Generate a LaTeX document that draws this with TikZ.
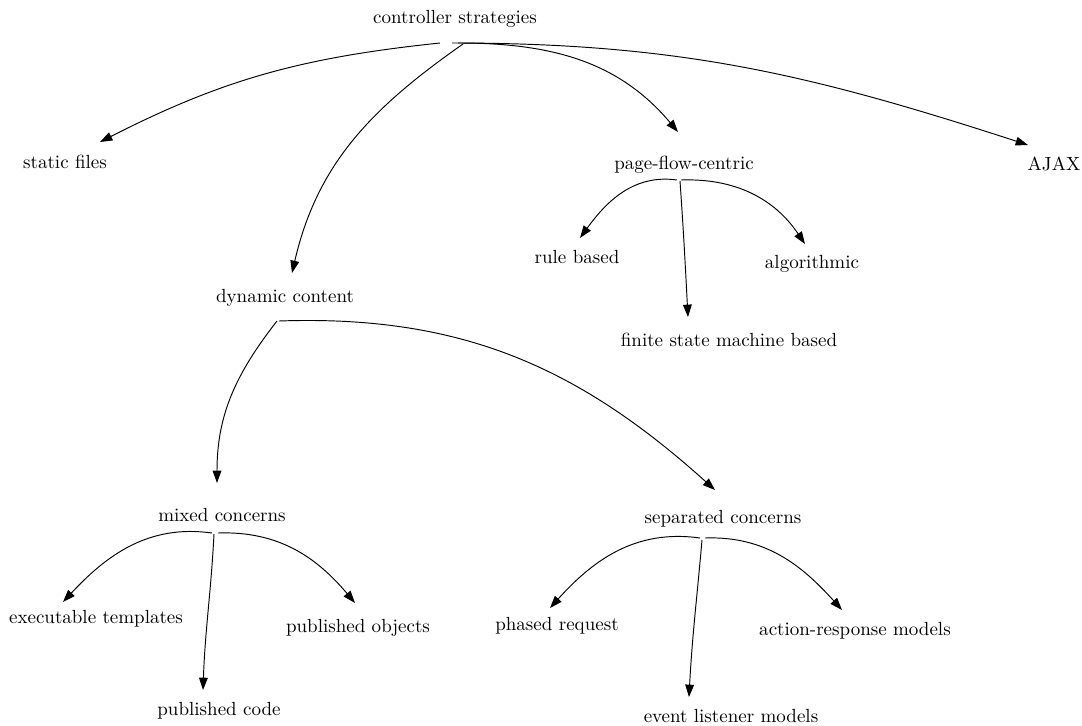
\documentclass[tikz,border=0pt]{standalone}
\usepackage{tikz}
\usetikzlibrary{arrows.meta,calc}

\begin{document}
\begin{tikzpicture}[x=0.526pt, y=0.526pt,
  >={Triangle[length=6.5pt, width=4.6pt]},
  term/.style={anchor=base, inner sep=0pt},
  link/.style={->, line width=0.5pt},
]
\useasboundingbox (0,0) rectangle (1082,-726);
\node[term] (ctl) at (455,-23) {controller strategies};
\node[term] (stat) at (65,-168) {static files};
\node[term] (page) at (684,-169) {page-flow-centric};
\node[term] (ajax) at (1054,-170) {AJAX};
\node[term] (dyn) at (285,-302) {dynamic content};
\node[term] (rule) at (577,-263) {rule based};
\node[term] (algo) at (812,-268) {algorithmic};
\node[term] (fsm) at (729,-346) {finite state machine based};
\node[term] (mixed) at (222,-521) {mixed concerns};
\node[term] (sep) at (723,-523) {separated concerns};
\node[term] (exec) at (96,-623) {executable templates};
\node[term] (pobj) at (358,-632) {published objects};
\node[term] (pcode) at (219,-715) {published code};
\node[term] (phase) at (557,-630) {phased request};
\node[term] (event) at (731,-722) {event listener models};
\node[term] (resp) at (855,-635) {action-response models};
% controller strategies
\draw[link] ($(ctl.base)+(-15,-20)$) to[out=186, in=27] ($(stat.base)+(35,26)$);
\draw[link] ($(ctl.base)+(-3,-20)$) to[out=0, in=162] ($(ajax.base)+(-26,25)$);
\draw[link] ($(ctl.base)+(3,-20)$) to[out=0, in=130] ($(page.base)+(-6,37)$);
\draw[link] ($(ctl.base)+(8,-21)$) to[out=215, in=77] ($(dyn.base)+(7,29)$);
% page-flow-centric
\draw[link] ($(page.base)+(-7,-11)$) to[out=172, in=54] ($(rule.base)+(3,25)$);
\draw[link] ($(page.base)+(-4,-12)$) to[out=-86, in=93] ($(fsm.base)+(-41,29)$);
\draw[link] ($(page.base)+(-3,-11)$) to[out=2, in=124] ($(algo.base)+(-7,24)$);
% dynamic content
\draw[link] ($(dyn.base)+(-8,-19)$) to[out=232, in=90] ($(mixed.base)+(-5,38)$);
\draw[link] ($(dyn.base)+(-6,-19)$) to[out=2, in=138] ($(sep.base)+(-8,33)$);
% mixed concerns
\draw[link] ($(mixed.base)+(-10,-12)$) to[out=172, in=47] ($(exec.base)+(-33,21)$);
\draw[link] ($(mixed.base)+(-8,-13)$) to[out=-93, in=88] ($(pcode.base)+(-16,25)$);
\draw[link] ($(mixed.base)+(-4,-12)$) to[out=2, in=130] ($(pobj.base)+(-3,29)$);
% separated concerns
\draw[link] ($(sep.base)+(-23,-15)$) to[out=172, in=48] ($(phase.base)+(-7,22)$);
\draw[link] ($(sep.base)+(-21,-17)$) to[out=-95, in=87] ($(event.base)+(-42,25)$);
\draw[link] ($(sep.base)+(-18,-15)$) to[out=2, in=132] ($(resp.base)+(-13,25)$);
\end{tikzpicture}
\end{document}
